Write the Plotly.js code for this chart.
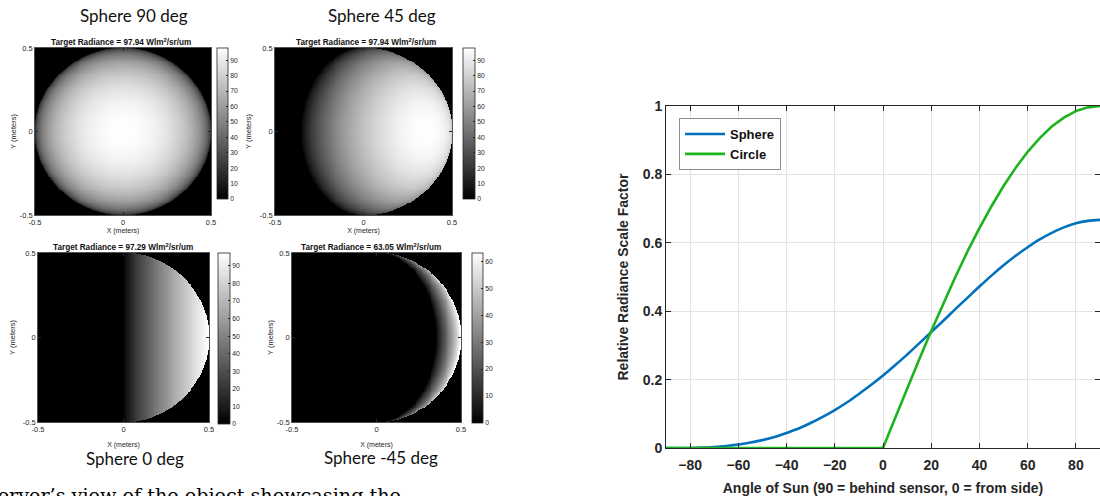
<!DOCTYPE html>
<html><head><meta charset="utf-8">
<script src="https://cdn.plot.ly/plotly-3.0.1.min.js"></script>
<style>html,body{margin:0;padding:0;background:#fff;overflow:hidden}#chart{width:1100px;height:496px}</style>
</head><body><div id="chart"></div>
<script>
// ---------- line chart data ----------
const sunAngles = [-90,-85,-80,-75,-70,-65,-60,-55,-50,-45,-40,-35,-30,-25,-20,-15,-10,-5,0,5,10,15,20,25,30,35,40,45,50,55,60,65,70,75,80,85,90];
const sphereFactor = [0,0,0,0.001,0.003,0.006,0.010,0.016,0.023,0.032,0.044,0.057,0.073,0.091,0.111,0.133,0.158,0.184,0.212,0.242,0.273,0.306,0.339,0.372,0.406,0.439,0.472,0.504,0.534,0.562,0.587,0.610,0.629,0.645,0.657,0.664,0.667];
const circleFactor = [0,0,0,0,0,0,0,0,0,0,0,0,0,0,0,0,0,0,0,0.087,0.174,0.259,0.342,0.423,0.500,0.574,0.643,0.707,0.766,0.819,0.866,0.906,0.940,0.966,0.985,0.996,1.000];
const seriesNames = ['Sphere','Circle'];
const lineXTicks = [-80,-60,-40,-20,0,20,40,60,80];
const lineYTicks = [0,0.2,0.4,0.6,0.8,1];
const lineYTickText = ['0','0.2','0.4','0.6','0.8','1'];

// ---------- rendered sphere panels ----------
const panelNames = ['Sphere 90 deg','Sphere 45 deg','Sphere 0 deg','Sphere -45 deg'];
const panelSunAngle = [90,45,0,-45];
const panelRadiance = [97.94,97.94,97.29,63.05];
const panelRadianceText = ['97.94','97.94','97.29','63.05'];
const colorbarTicks = [[0,10,20,30,40,50,60,70,80,90],[0,10,20,30,40,50,60,70,80,90],[0,10,20,30,40,50,60,70,80,90],[0,10,20,30,40,50,60]];
const meterTicks = [-0.5,0,0.5];
const meterTickText = ['-0.5','0','0.5'];
const fullScaleRadiance = 97.94;
const sphereRadius = 0.5;
const shadingExponent = 0.8;
const gridPts = 181;
const captionText = 'observer\u2019s view of the object showcasing the';

// ---------- layout geometry (pixels) ----------
const W = 1100, H = 496;
const px = v => v / W;
const py = v => 1 - v / H;
const panelBox = [[35,211,48,215],[275,452,48,215],[38,209,253,422],[292,461,253,422]];
const cbBox = [[217,48,11,151],[463,48,12,151],[218,253,12,171],[472,253,11,170]];
const titlePos = [[134,16],[382,16],[135,458],[381,457]];
const subPos = [[121,42],[366,42],[123,247],[371,247]];
const xTitleStandoff = [2,2,9,9];
const yTitleStandoff = [2,7,6,2];

const gridCoords = [];
for (let i = 0; i < gridPts; i++) gridCoords.push(-0.5 + i / (gridPts - 1));

function renderSphere(angleDeg) {
  const t = angleDeg * Math.PI / 180, sx = Math.cos(t), sz = Math.sin(t);
  const z = [];
  for (const y of gridCoords) {
    const row = [];
    for (const x of gridCoords) {
      const nx = x / sphereRadius, ny = y / sphereRadius, d = nx * nx + ny * ny;
      if (d >= 1) { row.push(0); continue; }
      const c = nx * sx + Math.sqrt(1 - d) * sz;
      row.push(c > 0 ? fullScaleRadiance * Math.pow(c, shadingExponent) : 0);
    }
    z.push(row);
  }
  return z;
}

const ax = '#262626';
const sans = 'Liberation Sans, Arial, sans-serif';
const traces = [], annotations = [];
const layout = {
  width: W, height: H, margin: {l:0,r:0,t:0,b:0},
  paper_bgcolor: '#fff', plot_bgcolor: '#fff',
  font: {family: sans, color: ax},
  showlegend: true,
  annotations: annotations
};

panelNames.forEach((name, i) => {
  const n = i + 1, xk = 'xaxis' + (i ? n : ''), yk = 'yaxis' + (i ? n : '');
  const b = panelBox[i], cb = cbBox[i];
  traces.push({
    type: 'heatmap', x: gridCoords, y: gridCoords, z: renderSphere(panelSunAngle[i]),
    xaxis: 'x' + (i ? n : ''), yaxis: 'y' + (i ? n : ''),
    zmin: 0, zmax: panelRadiance[i], zsmooth: false, hoverinfo: 'skip',
    colorscale: [[0,'#000000'],[1,'#ffffff']],
    colorbar: {
      x: px(cb[0]), xanchor: 'left', y: py(cb[1]), yanchor: 'top',
      thickness: cb[2], thicknessmode: 'pixels', len: cb[3] / H, lenmode: 'fraction',
      xpad: 0, ypad: 0, outlinecolor: ax, outlinewidth: 0.8,
      tickvals: colorbarTicks[i], ticks: 'inside', ticklen: 2, tickcolor: ax,
      tickfont: {size: 6.8, family: sans, color: ax}
    },
    showlegend: false
  });
  layout[xk] = {
    domain: [px(b[0]), px(b[1])], anchor: 'y' + (i ? n : ''), range: [-0.5, 0.5],
    tickvals: meterTicks, ticktext: meterTickText, ticks: 'inside', ticklen: 3, tickcolor: ax,
    showline: true, linecolor: ax, linewidth: 0.8, mirror: 'ticks', showgrid: false, zeroline: false,
    tickfont: {size: 7.5, family: sans, color: ax},
    title: {text: 'X (meters)', font: {size: 7, family: sans, color: ax}, standoff: xTitleStandoff[i]}
  };
  layout[yk] = {
    domain: [py(b[3]), py(b[2])], anchor: 'x' + (i ? n : ''), range: [-0.5, 0.5],
    tickvals: meterTicks, ticktext: meterTickText, ticks: 'inside', ticklen: 3, tickcolor: ax,
    showline: true, linecolor: ax, linewidth: 0.8, mirror: 'ticks', showgrid: false, zeroline: false,
    tickfont: {size: 7.5, family: sans, color: ax},
    title: {text: 'Y (meters)', font: {size: 7.5, family: sans, color: ax}, standoff: yTitleStandoff[i]}
  };
  annotations.push({
    xref: 'paper', yref: 'paper', x: px(titlePos[i][0]), y: py(titlePos[i][1]),
    xanchor: 'center', yanchor: 'middle', showarrow: false, text: name,
    font: {family: 'Lato, Open Sans, sans-serif', size: 17, color: '#111'}
  });
  annotations.push({
    xref: 'paper', yref: 'paper', x: px(subPos[i][0]), y: py(subPos[i][1]),
    xanchor: 'center', yanchor: 'middle', showarrow: false,
    text: 'Target Radiance = ' + panelRadianceText[i] + ' Wlm<sup>2</sup>/sr/um',
    font: {family: sans, size: 8.2, color: '#111', weight: 'bold'}
  });
});

// caption fragment at the bottom (cut by the picture edge, as in the reference)
annotations.push({
  xref: 'paper', yref: 'paper', x: px(403), y: py(495), xanchor: 'right', yanchor: 'middle',
  showarrow: false, text: captionText,
  font: {family: 'DejaVu Serif, serif', size: 19.2, color: '#000'}
});

// ---------- line chart ----------
const lineColors = ['#0072BD', '#1db31d'];
[sphereFactor, circleFactor].forEach((vals, k) => {
  traces.push({
    type: 'scatter', mode: 'lines', x: sunAngles, y: vals, name: seriesNames[k],
    xaxis: 'x5', yaxis: 'y5',
    line: {color: lineColors[k], width: 2.6, shape: k === 0 ? 'spline' : 'linear'}
  });
});
layout.xaxis5 = {
  domain: [px(666), 1], anchor: 'y5', range: [-90, 90],
  tickvals: lineXTicks, ticks: 'inside', ticklen: 5, tickcolor: ax, ticklabelstandoff: 4,
  showline: true, linecolor: ax, linewidth: 1, mirror: 'ticks',
  showgrid: true, gridcolor: '#e3e3e3', gridwidth: 1, zeroline: false,
  tickfont: {size: 14, family: sans, color: ax, weight: 'bold'},
  title: {text: 'Angle of Sun (90 = behind sensor, 0 = from side)', standoff: 11,
          font: {size: 14, family: sans, color: ax, weight: 'bold'}}
};
layout.yaxis5 = {
  domain: [py(448), py(106)], anchor: 'x5', range: [0, 1],
  tickvals: lineYTicks, ticktext: lineYTickText, ticks: 'inside', ticklen: 5, tickcolor: ax,
  showline: true, linecolor: ax, linewidth: 1, mirror: 'ticks',
  showgrid: true, gridcolor: '#e3e3e3', gridwidth: 1, zeroline: false,
  tickfont: {size: 14, family: sans, color: ax, weight: 'bold'},
  title: {text: 'Relative Radiance Scale Factor', standoff: 10,
          font: {size: 14, family: sans, color: ax, weight: 'bold'}}
};
layout.legend = {
  x: px(679), y: py(118), xanchor: 'left', yanchor: 'top',
  bgcolor: '#fff', bordercolor: '#8c8c8c', borderwidth: 1,
  font: {size: 13, family: sans, color: '#111', weight: 'bold'},
  itemwidth: 40, tracegroupgap: 0
};

Plotly.newPlot('chart', traces, layout, {staticPlot: true, displayModeBar: false});
</script></body></html>
